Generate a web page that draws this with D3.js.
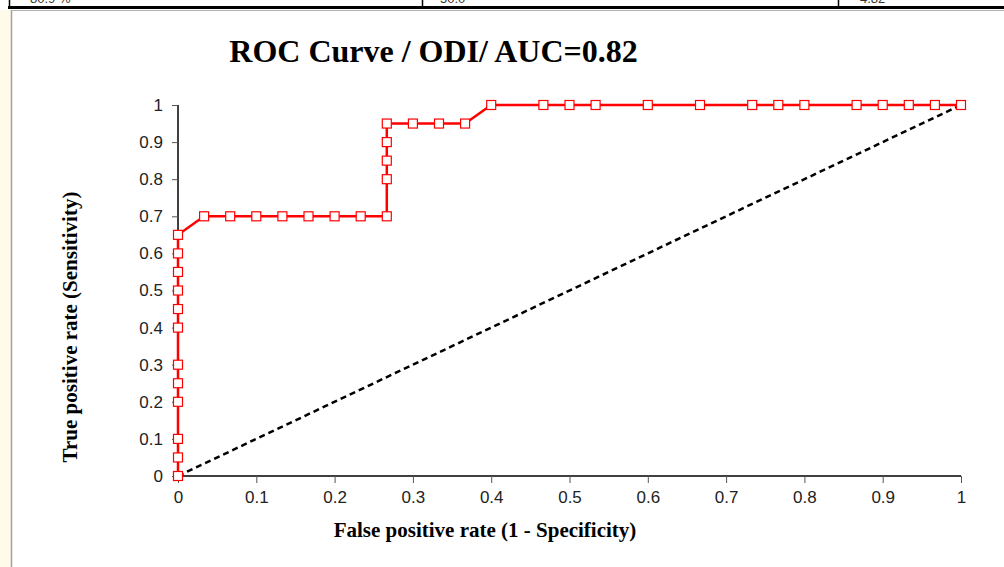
<!DOCTYPE html>
<html><head><meta charset="utf-8">
<script src="https://cdn.jsdelivr.net/npm/d3@7"></script>
<style>body{margin:0;background:#fff;overflow:hidden}svg{display:block}</style>
</head><body>
<svg id="c" width="1004" height="567"></svg>
<script>
// ROC points (false positive rate, true positive rate)
const fpr = [0,0,0,0,0,0,0,0,0,0,0,0,
  1/30,2/30,3/30,4/30,5/30,6/30,7/30,8/30,
  8/30,8/30,8/30,8/30,
  9/30,10/30,11/30,
  12/30,14/30,15/30,16/30,18/30,20/30,22/30,23/30,24/30,26/30,27/30,28/30,29/30,1];
const tpr = [0,0.05,0.1,0.2,0.25,0.3,0.4,0.45,0.5,0.55,0.6,0.65,
  0.7,0.7,0.7,0.7,0.7,0.7,0.7,0.7,
  0.8,0.85,0.9,0.95,
  0.95,0.95,0.95,
  1,1,1,1,1,1,1,1,1,1,1,1,1,1];
const diagX = [0,1];
const diagY = [0,1];
const xTicks = [0,0.1,0.2,0.3,0.4,0.5,0.6,0.7,0.8,0.9,1];
const yTicks = [0,0.1,0.2,0.3,0.4,0.5,0.6,0.7,0.8,0.9,1];
const titleText = "ROC Curve / ODI/ AUC=0.82";
const xLabel = "False positive rate (1 - Specificity)";
const yLabel = "True positive rate (Sensitivity)";
const headerCells = ["80.9 %","50.0","4.82"];

const svg = d3.select("#c");
// page decorations (spreadsheet background)
svg.append("rect").attr("x",0).attr("y",10).attr("width",11).attr("height",557).attr("fill","#fffaea");
svg.append("line").attr("x1",11.5).attr("x2",11.5).attr("y1",10).attr("y2",567).attr("stroke","#a0a0a0").attr("stroke-width",1.5);
svg.append("line").attr("x1",8).attr("x2",1004).attr("y1",7.5).attr("y2",7.5).attr("stroke","#000").attr("stroke-width",3);
svg.append("line").attr("x1",11).attr("x2",1004).attr("y1",10.5).attr("y2",10.5).attr("stroke","#b0b0b0").attr("stroke-width",1);
[9.5,422.5,838.5].forEach(x=>svg.append("line").attr("x1",x).attr("x2",x).attr("y1",0).attr("y2",7).attr("stroke","#000").attr("stroke-width",1.5));
const hx=[30,440,860];
headerCells.forEach((t,i)=>svg.append("text").attr("x",hx[i]).attr("y",3).attr("font-family","Liberation Sans, Arial").attr("font-size",13).attr("fill","#333").text(t));

const x = d3.scaleLinear().domain([0,1]).range([178,961]);
const y = d3.scaleLinear().domain([0,1]).range([476,105]);

// axes
const gx = svg.append("g").attr("transform","translate(0,476)")
  .call(d3.axisBottom(x).tickValues(xTicks).tickFormat(d3.format("~g")).tickSizeOuter(0).tickSize(7).tickPadding(8));
const gy = svg.append("g").attr("transform","translate(178,0)")
  .call(d3.axisLeft(y).tickValues(yTicks).tickFormat(d3.format("~g")).tickSizeOuter(0).tickSize(6).tickPadding(9));
[gx,gy].forEach(g=>{
  g.select(".domain").attr("stroke","#000").attr("stroke-width",1.5);
  g.selectAll(".tick line").attr("stroke","#555").attr("stroke-width",1);
  g.selectAll(".tick text").attr("font-family","Liberation Sans, Arial").attr("font-size",17).attr("fill","#222");
});
gx.select(".domain").attr("d","M178,0H961");
gy.select(".domain").attr("d","M0,105V476");

// diagonal
svg.append("path").datum(diagX.map((d,i)=>[d,diagY[i]]))
  .attr("d",d3.line().x(d=>x(d[0])).y(d=>y(d[1])))
  .attr("fill","none").attr("stroke","#000").attr("stroke-width",2.5).attr("stroke-dasharray","6,4");

// ROC curve
const pts = fpr.map((d,i)=>[d,tpr[i]]);
svg.append("path").datum(pts)
  .attr("d",d3.line().x(d=>x(d[0])).y(d=>y(d[1])))
  .attr("fill","none").attr("stroke","#ff0000").attr("stroke-width",2.5);
svg.selectAll("rect.m").data(pts).enter().append("rect").attr("class","m")
  .attr("x",d=>x(d[0])-4.5).attr("y",d=>y(d[1])-4.5).attr("width",9).attr("height",9)
  .attr("fill","#fff").attr("stroke","#ff0000").attr("stroke-width",1.2);

// titles
svg.append("text").attr("x",433.5).attr("y",62).attr("text-anchor","middle")
  .attr("font-family","Liberation Serif, Times New Roman").attr("font-weight","bold").attr("font-size",32).text(titleText);
svg.append("text").attr("x",485).attr("y",537).attr("text-anchor","middle")
  .attr("font-family","Liberation Serif, Times New Roman").attr("font-weight","bold").attr("font-size",21).text(xLabel);
svg.append("text").attr("transform","translate(77,327) rotate(-90)").attr("text-anchor","middle")
  .attr("font-family","Liberation Serif, Times New Roman").attr("font-weight","bold").attr("font-size",21).text(yLabel);
</script>
</body></html>
